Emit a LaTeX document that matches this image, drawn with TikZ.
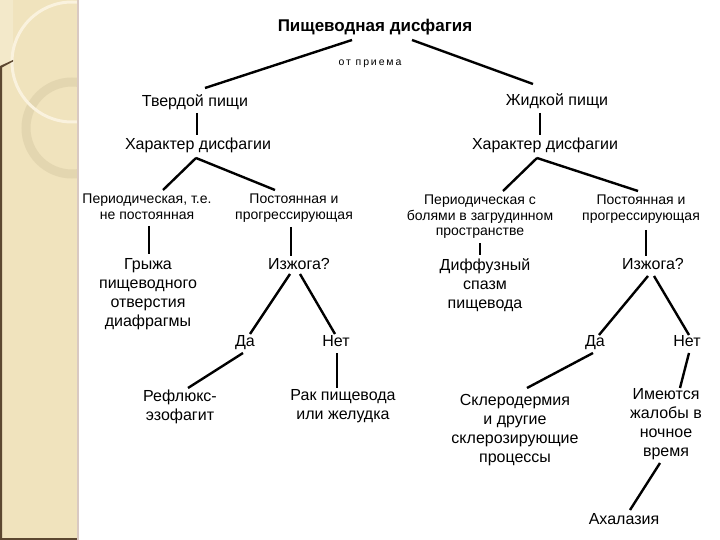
\documentclass[tikz,border=0pt]{standalone}
\usepackage{fontspec}
\setmainfont{Liberation Sans}
\newfontfamily\spacedfont[LetterSpace=18]{Liberation Sans}
\usepackage{xcolor}
\definecolor{band}{rgb}{0.94,0.89,0.74}
\definecolor{bandedge}{rgb}{0.36,0.28,0.19}
\definecolor{bandline}{rgb}{0.85,0.79,0.76}
\definecolor{ringcol}{rgb}{0.89,0.84,0.69}
\definecolor{arccol}{rgb}{0.98,0.95,0.87}
\usetikzlibrary{calc}

\tikzset{
  lbl/.style={inner sep=1pt, align=center, font=\fontsize{16}{18.8}\selectfont},
  oneline/.style={lbl, text height=11.5pt, text depth=3.5pt},
  sublbl/.style={inner sep=1pt, align=center, font=\fontsize{14}{15.5}\selectfont},
  ttl/.style={inner sep=1pt, text height=12.5pt, text depth=3.5pt, font=\fontsize{17}{20}\selectfont\bfseries},
  link/.style={draw=black, line width=2.4pt}
}

\begin{document}
\begin{tikzpicture}[x=1pt,y=-1pt]
  \useasboundingbox (0,0) rectangle (720,540);
  \fill[white] (0,0) rectangle (720,540);

  % Band
  \begin{scope}
    \clip (0,0) rectangle (78,540);
    \fill[band] (0,0) rectangle (78,540);
    \fill[band!80!white] (0,0) -- (13,0) -- (13,60) -- (0,66) -- cycle;
    \draw[ringcol, line width=9pt] (72,128) circle (46);
    \draw[arccol, line width=3pt] (72,62) circle (60);
  \end{scope}
  \fill[bandedge] (0,66) -- (13,60) -- (13,61.5) -- (2,67.5) -- (2,540) -- (0,540) -- cycle;
  \fill[bandedge] (0,538) rectangle (78,540);
  \fill[bandline] (77,0) rectangle (79,540);

  % Top
  \node[ttl] (title) at (375,27) {Пищеводная дисфагия};
  \node[inner sep=1pt, text height=7.5pt, text depth=2.5pt, font=\fontsize{10.5}{12}\spacedfont] (priem) at (370,63) {от приема};
  \node[oneline] (tverd) at (195,103) {Твердой пищи};
  \node[oneline] (zhid) at (557,102) {Жидкой пищи};
  \node[oneline] (harL) at (198,146) {Характер дисфагии};
  \node[oneline] (harR) at (545,146) {Характер дисфагии};

  % Solid food
  \node[sublbl] (perL) at (147,207) {Периодическая, т.е.\\не постоянная};
  \node[sublbl] (postL) at (294,208) {Постоянная и\\прогрессирующая};
  \node[lbl] (gryzha) at (148,294) {Грыжа\\пищеводного\\отверстия\\диафрагмы};
  \node[oneline] (izhL) at (299,265) {Изжога?};
  \node[oneline] (daL) at (245,342) {Да};
  \node[oneline] (netL) at (336,342) {Нет};
  \node[lbl] (reflux) at (180,407) {Рефлюкс-\\эзофагит};
  \node[lbl] (rak) at (343,406) {Рак пищевода\\или желудка};

  % Liquid food
  \node[sublbl] (perR) at (480,217) {Периодическая с\\болями в загрудинном\\пространстве};
  \node[sublbl] (postR) at (641,209) {Постоянная и\\прогрессирующая};
  \node[lbl] (diff) at (485,285) {Диффузный\\спазм\\пищевода};
  \node[oneline] (izhR) at (653,265) {Изжога?};
  \node[oneline] (daR) at (595,342) {Да};
  \node[oneline] (netR) at (687,342) {Нет};
  \node[lbl] (sklero) at (515,430) {Склеродермия\\и другие\\склерозирующие\\процессы};
  \node[lbl] (imeyut) at (666,424) {Имеются\\жалобы в\\ночное\\время};
  \node[oneline] (ahal) at (624,520) {Ахалазия};

  % Links
  \draw[link] ($(title)+(-23,13)$) -- ($(tverd)+(10,-15)$);
  \draw[link] ($(title)+(37,13)$) -- ($(zhid)+(-24,-18)$);
  \draw[link] ($(tverd)+(2,10)$) -- ($(harL)+(-1,-11)$);
  \draw[link] ($(zhid)+(-17,11)$) -- ($(harR)+(-5,-11)$);
  \draw[link] ($(harL)+(-2,12)$) -- ($(perL)+(16,-17)$);
  \draw[link] ($(harL)+(-2,12)$) -- ($(postL)+(-19,-18)$);
  \draw[link] ($(harR)+(-8,12)$) -- ($(perR)+(23,-26)$);
  \draw[link] ($(harR)+(-8,12)$) -- ($(postR)+(-3,-18)$);
  \draw[link] ($(perL)+(2,19)$) -- ($(gryzha)+(1,-40)$);
  \draw[link] ($(postL)+(-3,19)$) -- ($(izhL)+(-8,-9)$);
  \draw[link] ($(perR)+(0,26)$) -- ($(diff)+(-5,-30)$);
  \draw[link] ($(postR)+(5,21)$) -- ($(izhR)+(-7,-9)$);
  \draw[link] ($(izhL)+(-9,9)$) -- ($(daL)+(5,-8)$);
  \draw[link] ($(izhL)+(1,9)$) -- ($(netL)+(-1,-8)$);
  \draw[link] ($(daL)+(-2,11)$) -- ($(reflux)+(8,-19)$);
  \draw[link] ($(netL)+(1,11)$) -- ($(rak)+(-6,-18)$);
  \draw[link] ($(izhR)+(-5,11)$) -- ($(daR)+(4,-7)$);
  \draw[link] ($(izhR)+(1,11)$) -- ($(netR)+(2,-7)$);
  \draw[link] ($(daR)+(-2,11)$) -- ($(sklero)+(12,-42)$);
  \draw[link] ($(netR)+(2,11)$) -- ($(imeyut)+(14,-36)$);
  \draw[link] ($(imeyut)+(-6,39)$) -- ($(ahal)+(6,-10)$);

\end{tikzpicture}
\end{document}
